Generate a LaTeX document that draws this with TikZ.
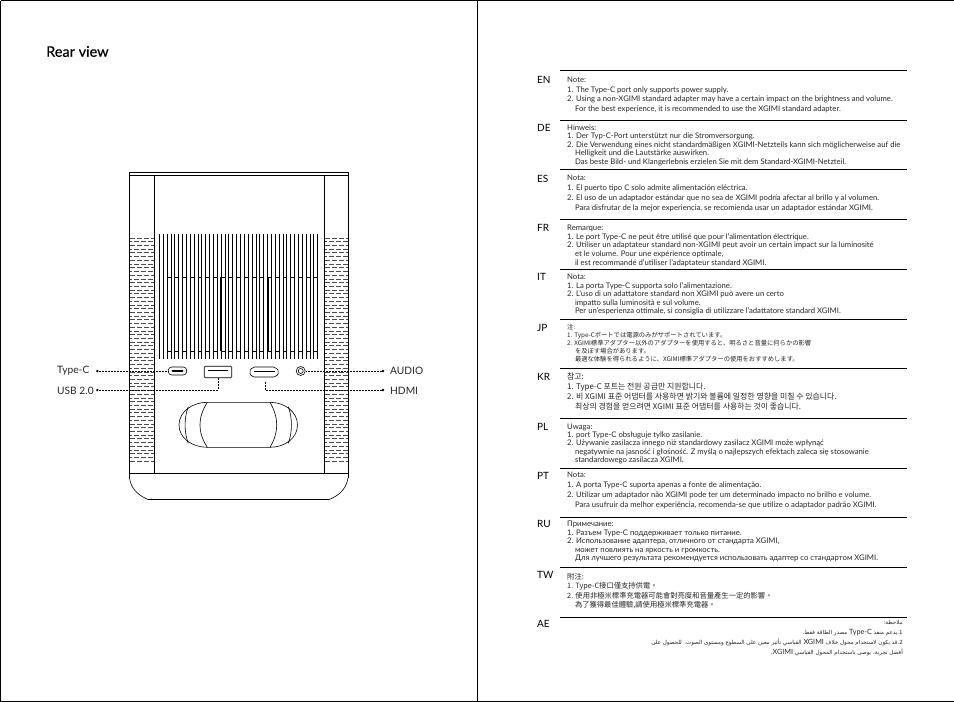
\documentclass[tikz,border=0pt]{standalone}
\usepackage{fontspec}
\setmainfont{Lato}
\newfontfamily\jpfont{Noto Sans CJK JP}
\newfontfamily\krfont{Noto Sans CJK KR}
\newfontfamily\twfont{Noto Sans CJK TC}
\newfontfamily\arabicfont[Script=Arabic]{DejaVu Sans}
\newfontfamily\titlefont[FakeBold=0.35]{Lato}
\TeXXeTstate=1
\tikzset{
  outline/.style={line width=0.9pt},
  thinline/.style={line width=0.6pt},
  leader/.style={line width=0.6pt,dash pattern=on 2pt off 1pt},
  tipdot/.style={circle,fill=black,inner sep=0pt,minimum size=2.6pt},
  portlabel/.style={font=\fontsize{10.2}{12}\selectfont,text=black!85,inner sep=0pt},
  langlabel/.style={font=\fontsize{10}{12}\selectfont,anchor=west,inner sep=0pt},
  notetext/.style={font=\fontsize{7.7}{#1}\selectfont,anchor=north west,align=left,inner sep=0pt,text=black!85},
  noterule/.style={line width=0.8pt}
}
\newcommand{\noteindent}{\hspace*{7.8pt}}
\newcommand{\latinpart}[1]{\beginL{\normalfont\fontsize{7.2}{10}\selectfont #1}\endL{}}
\begin{document}
\begin{tikzpicture}[x=1pt,y=-1pt]
\useasboundingbox (0,0) rectangle (954,702);
%% page frames
\draw[line width=1.2pt] (0.8,0.8) -- (954,0.8);
\draw[line width=1.2pt] (0.8,0.8) -- (0.8,701.2) -- (954,701.2);
\draw[line width=1pt] (477,0.8) -- (477,701.2);
\node[anchor=west,inner sep=0pt,font=\fontsize{14.5}{16}\selectfont\titlefont] (title) at (46,51.5) {Rear view};
%% projector body
\draw[outline] (129.5,478) -- (129.5,172) -- (348,172) -- (348,478);
\draw[outline] (129.5,175.5) -- (348,175.5);
\draw[outline] (154.5,175.5) -- (154.5,473);
\draw[outline] (324.5,175.5) -- (324.5,473);
\draw[thinline] (129.5,473) -- (348,473);
\draw[thinline] (129.5,478) .. controls (131,490) and (140,496) .. (148,499.5)
  -- (329,499.5) .. controls (338,496) and (346,490) .. (348,478);
%% speaker mesh
\foreach \row in {0,...,60} {
  \pgfmathsetmacro{\ypos}{238+3.72*\row}
  \pgfmathsetmacro{\phase}{mod(\row,2)*3.5}
  \draw[line width=0.8pt,black!70,dash pattern=on 5pt off 2pt,dash phase=\phase pt] (130,\ypos) -- (154,\ypos);
  \draw[line width=0.8pt,black!70,dash pattern=on 5pt off 2pt,dash phase=\phase pt] (325,\ypos) -- (347.5,\ypos);
}
%% vents
\foreach \i in {0,...,41} {
  \pgfmathsetmacro{\xpos}{159.3+3.86*\i}
  \draw[thinline] (\xpos,234) -- (\xpos,359);
}
\foreach \i in {1,3,...,39} {
  \pgfmathsetmacro{\xa}{159.3+3.86*\i+3.86}
  \pgfmathsetmacro{\xb}{159.3+3.86*\i+7.72}
  \draw[thinline] (\xa,277) -- (\xb,277);
  \draw[thinline] (\xa,351) -- (\xb,351);
}
\draw[line width=1.3pt] (220.7,277) -- (220.7,351);
\draw[line width=1.3pt] (268,277) -- (268,351);
%% ports
\node[draw,thinline,rounded corners=3.5pt,minimum width=18.5pt,minimum height=8pt,inner sep=0pt] (typec) at (177.5,371) {};
\draw[line width=2pt,line cap=round] (172.5,371) -- (182.5,371);
\node[draw,thinline,rounded corners=1pt,minimum width=27.5pt,minimum height=11.5pt,inner sep=0pt] (usb) at (218,372) {};
\draw[thinline] (208,370.5) -- (228,370.5);
\draw[thinline,rounded corners=2pt] (249,372) -- (252.5,367) -- (275.5,367) -- (279.3,372) -- (276,377) -- (252,377) -- cycle;
\draw[line width=1.3pt] (254,371.5) -- (274.5,371.5);
\coordinate (hdmi) at (265,380.5);
\node[draw,circle,thinline,minimum size=9pt,inner sep=0pt] (audio) at (300.7,371) {};
\node[draw,circle,thinline,minimum size=5pt,inner sep=0pt] (audioin) at (300.7,371) {};
%% lens
\draw[thinline] (207.3,402.3) -- (270,402.3) .. controls (285,402.3) and (297.5,412) .. (297.5,425)
  .. controls (297.5,438) and (285,447.3) .. (270,447.3) -- (207.3,447.3)
  .. controls (192,447.3) and (179,438) .. (179,425) .. controls (179,412) and (192,402.3) .. (207.3,402.3);
\draw[thinline] (207.3,402.3) .. controls (197.5,418) and (197.5,432) .. (207.3,447.3);
\draw[thinline] (270,402.3) .. controls (279,418) and (279,432) .. (270,447.3);
\draw[thinline] (188.3,406.7) .. controls (184,418) and (184,432) .. (188.3,443.3);
\draw[thinline] (288.3,406.7) .. controls (292.5,418) and (292.5,432) .. (288.3,443.3);
%% labels and leaders
\node[portlabel,anchor=west] (typeclabel) at (57,370.5) {Type-C};
\node[portlabel,anchor=west] (usblabel) at (57,390.5) {USB 2.0};
\node[portlabel,anchor=west] (audiolabel) at (390,370.5) {AUDIO};
\node[portlabel,anchor=west] (hdmilabel) at (390,390.5) {HDMI};
\node[tipdot] (typecdot) at (97.3,371) {};
\node[tipdot] (usbdot) at (97.3,390) {};
\node[tipdot] (audiodot) at (383,371) {};
\node[tipdot] (hdmidot) at (383,390) {};
\draw[leader] (typecdot) -- (typec);
\draw[leader] (usbdot) -| (usb.south);
\draw[leader] (audiodot) -- (audio);
\draw[leader] (hdmidot) -| (hdmi);
%% note rules
\foreach \y in {70,120,169.5,219,269,319.5,368.5,418,468,517.5,567,617} {
  \draw[noterule] (560,\y) -- (907,\y);
}
%% language labels
\foreach \lang/\y in {EN/80,DE/128,ES/178.5,FR/227.5,IT/277,JP/327.5,KR/376.5,PL/426.5,PT/475.5,RU/524,TW/575,AE/623.5} {
  \node[langlabel] (lang\lang) at (537,\y) {\lang};
}
%% notes
\node[notetext=9.7] (noteEN) at (567,76.8) {Note:\\1. The Type-C port only supports power supply.\\2. Using a non-XGIMI standard adapter may have a certain impact on the brightness and volume.\\\noteindent For the best experience, it is recommended to use the XGIMI standard adapter.};
\node[notetext=8.5] (noteDE) at (567,124.3) {Hinweis:\\1. Der Typ-C-Port unterstützt nur die Stromversorgung.\\2. Die Verwendung eines nicht standardmäßigen XGIMI-Netzteils kann sich möglicherweise auf die\\\noteindent Helligkeit und die Lautstärke auswirken.\\\noteindent Das beste Bild- und Klangerlebnis erzielen Sie mit dem Standard-XGIMI-Netzteil.};
\node[notetext=10] (noteES) at (567,175.2) {Nota:\\1. El puerto tipo C solo admite alimentación eléctrica.\\2. El uso de un adaptador estándar que no sea de XGIMI podría afectar al brillo y al volumen.\\\noteindent Para disfrutar de la mejor experiencia, se recomienda usar un adaptador estándar XGIMI.};
\node[notetext=8.7] (noteFR) at (567,224.8) {Remarque:\\1. Le port Type-C ne peut être utilisé que pour l'alimentation électrique.\\2. Utiliser un adaptateur standard non-XGIMI peut avoir un certain impact sur la luminosité\\\noteindent et le volume. Pour une expérience optimale,\\\noteindent il est recommandé d'utiliser l'adaptateur standard XGIMI.};
\node[notetext=8.4] (noteIT) at (567,274.2) {Nota:\\1. La porta Type-C supporta solo l'alimentazione.\\2. L'uso di un adattatore standard non XGIMI può avere un certo\\\noteindent impatto sulla luminosità e sul volume.\\\noteindent Per un'esperienza ottimale, si consiglia di utilizzare l'adattatore standard XGIMI.};
\node[notetext=8.1,font=\fontsize{6.3}{8.1}\selectfont\jpfont] (noteJP) at (567,323.5) {注:\\1. Type-Cポートでは電源のみがサポートされています。\\2. XGIMI標準アダプター以外のアダプターを使用すると、明るさと音量に何らかの影響\\\noteindent を及ぼす場合があります。\\\noteindent 最適な体験を得られるように、XGIMI標準アダプターの使用をおすすめします。};
\node[notetext=10,font=\fontsize{7.9}{10.1}\selectfont\krfont] (noteKR) at (567,372.5) {참고:\\1. Type-C 포트는 전원 공급만 지원합니다.\\2. 비 XGIMI 표준 어댑터를 사용하면 밝기와 볼륨에 일정한 영향을 미칠 수 있습니다.\\\noteindent 최상의 경험을 얻으려면 XGIMI 표준 어댑터를 사용하는 것이 좋습니다.};
\node[notetext=8.3] (notePL) at (567,423.5) {Uwaga:\\1. port Type-C obsługuje tylko zasilanie.\\2. Używanie zasilacza innego niż standardowy zasilacz XGIMI może wpłynąć\\\noteindent negatywnie na jasność i głośność. Z myślą o najlepszych efektach zaleca się stosowanie\\\noteindent standardowego zasilacza XGIMI.};
\node[notetext=10] (notePT) at (567,471.5) {Nota:\\1. A porta Type-C suporta apenas a fonte de alimentação.\\2. Utilizar um adaptador não XGIMI pode ter um determinado impacto no brilho e volume.\\\noteindent Para usufruir da melhor experiência, recomenda-se que utilize o adaptador padrão XGIMI.};
\node[notetext=8.4] (noteRU) at (567,521.2) {Примечание:\\1. Разъем Type-C поддерживает только питание.\\2. Использование адаптера, отличного от стандарта XGIMI,\\\noteindent может повлиять на яркость и громкость.\\\noteindent Для лучшего результата рекомендуется использовать адаптер со стандартом XGIMI.};
\node[notetext=9.5,font=\fontsize{7.3}{9.5}\selectfont\twfont] (noteTW) at (567,573) {附注:\\1. Type-C接口僅支持供電。\\2. 使用非極米標準充電器可能會對亮度和音量產生一定的影響。\\\noteindent 為了獲得最佳體驗,請使用極米標準充電器。};
\node[notetext=9.7,anchor=north east,align=right,font=\fontsize{5.6}{9.7}\selectfont\arabicfont] (noteAE) at (903,620.5) {\beginR ملاحظة:\endR\\\beginR 1.يدعم منفذ \latinpart{Type-C} مصدر الطاقة فقط.\endR\\\beginR 2.قد يكون لاستخدام محول خلاف \latinpart{XGIMI} القياسي تأثير معين على السطوع ومستوى الصوت. للحصول على\endR\\\beginR أفضل تجربة، يوصى باستخدام المحول القياسي \latinpart{XGIMI}.\endR};
\end{tikzpicture}
\end{document}
